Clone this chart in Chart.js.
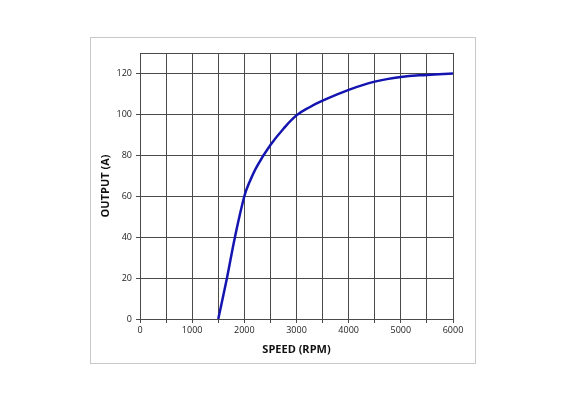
<!DOCTYPE html>
<html>
<head>
<meta charset="utf-8">
<script src="https://cdn.jsdelivr.net/npm/chart.js@4.4.1/dist/chart.umd.min.js"></script>
<style>
    html, body { margin: 0; padding: 0; background: #fff; }
    #wrap { position: relative; width: 566px; height: 400px; }
    #frame { position: absolute; left: 90px; top: 37px; width: 384px; height: 325px; border: 1px solid #c8c8c8; }
    #chart { position: absolute; left: 0; top: 0; }
</style>
</head>
<body>
<div id="wrap">
    <div id="frame"></div>
    <canvas id="chart" width="566" height="400"></canvas>
</div>
<script>
// Output current vs speed
const speedRpm = [1500, 1667, 1820, 2000, 2100, 2250, 2500, 2750, 3000, 3250, 3500, 4000, 4500, 5000, 5500, 6000];
const outputAmps = [0, 20, 40, 60, 67, 75, 85, 93, 99.5, 103.5, 106.7, 112, 116, 118.3, 119.3, 120];
const xTickLabels = [0, 1000, 2000, 3000, 4000, 5000, 6000];
const yTickLabels = [0, 20, 40, 60, 80, 100, 120];

const tickFont = { family: 'Open Sans', size: 9 };
const titleFont = { family: 'Open Sans', size: 11, weight: 'bold' };

new Chart(document.getElementById('chart').getContext('2d'), {
    type: 'line',
    data: {
        datasets: [{
            data: speedRpm.map((s, i) => ({ x: s, y: outputAmps[i] })),
            borderColor: '#1414b0',
            borderWidth: 2.5,
            pointRadius: 0,
            tension: 0.4,
            fill: false
        }]
    },
    options: {
        responsive: false,
        animation: false,
        layout: { padding: { left: 95, top: 53, right: 113, bottom: 40 } },
        plugins: {
            legend: { display: false },
            tooltip: { enabled: false }
        },
        scales: {
            x: {
                type: 'linear',
                min: 0,
                max: 6000,
                afterFit: (axis) => { axis.height = 41; },
                afterBuildTicks: (axis) => {
                    axis.ticks = [];
                    for (let v = 0; v <= 6000; v += 500) axis.ticks.push({ value: v });
                },
                ticks: {
                    autoSkip: false,
                    maxRotation: 0,
                    color: '#222',
                    font: tickFont,
                    padding: 2,
                    callback: (v) => xTickLabels.includes(v) ? String(v) : ''
                },
                grid: { color: '#4a4a4a', lineWidth: 1, tickLength: 4, tickColor: '#4a4a4a' },
                border: { color: '#4a4a4a', width: 1 },
                title: { display: true, text: 'SPEED (RPM)', color: '#111', font: titleFont, padding: { top: 2 } }
            },
            y: {
                min: 0,
                max: 130,
                afterFit: (axis) => { axis.width = 45; },
                afterBuildTicks: (axis) => {
                    axis.ticks = yTickLabels.map(v => ({ value: v })).concat([{ value: 130 }]);
                },
                ticks: {
                    color: '#222',
                    font: tickFont,
                    padding: 4,
                    callback: (v) => yTickLabels.includes(v) ? String(v) : ''
                },
                grid: {
                    color: '#4a4a4a',
                    lineWidth: 1,
                    tickLength: 4,
                    tickColor: (ctx) => ctx.tick && ctx.tick.value === 130 ? 'rgba(0,0,0,0)' : '#4a4a4a'
                },
                border: { color: '#4a4a4a', width: 1 },
                title: { display: true, text: 'OUTPUT (A)', color: '#111', font: titleFont, padding: { bottom: 4 } }
            }
        }
    }
});
</script>
</body>
</html>
